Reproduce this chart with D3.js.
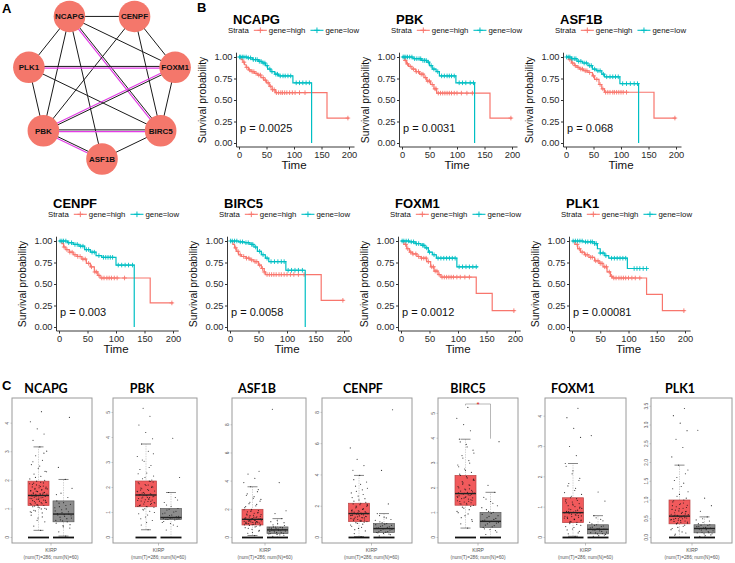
<!DOCTYPE html>
<html><head><meta charset="utf-8">
<script src="https://cdn.jsdelivr.net/npm/d3@7"></script>
<style>body{margin:0;background:#fff}svg{display:block}</style>
</head><body>
<script>
// ================= DATA =================
// Panel A network
const netNodes = ["ASF1B","PBK","PLK1","NCAPG","CENPF","FOXM1","BIRC5"]; // ring order
const netEdges = [
 ["NCAPG","CENPF",0],["NCAPG","PLK1",0],["NCAPG","FOXM1",0],["NCAPG","PBK",0],["NCAPG","ASF1B",0],["NCAPG","BIRC5",1],
 ["CENPF","FOXM1",0],["CENPF","BIRC5",0],["CENPF","PBK",0],
 ["PLK1","FOXM1",1],["PLK1","PBK",0],["PLK1","BIRC5",0],
 ["FOXM1","BIRC5",0],["FOXM1","PBK",1],
 ["PBK","BIRC5",1],["PBK","ASF1B",1],["ASF1B","BIRC5",0]
];
// Panel B survival
const kmGenes = ["NCAPG","PBK","ASF1B","CENPF","BIRC5","FOXM1","PLK1"];
const kmPvalues = ["0.0025","0.0031","0.068","0.003","0.0058","0.0012","0.00081"];
const kmTimeTicks = [0,50,100,150,200];
const kmSurvTicks = [0,0.25,0.5,0.75,1];
const kmStrata = ["gene=high","gene=low"];
const kmHighSteps = [
 [[0,1],[4,0.97],[7,0.94],[10,0.91],[13,0.88],[17,0.85],[22,0.83],[28,0.81],[34,0.79],[40,0.76],[45,0.73],[50,0.70],[55,0.66],[60,0.62],[66,0.585],[160,0.29]],
 [[0,1],[5,0.96],[8,0.92],[12,0.89],[18,0.86],[25,0.83],[32,0.80],[40,0.76],[45,0.72],[52,0.68],[58,0.63],[63,0.58],[160,0.29]],
 [[0,1],[5,0.97],[10,0.93],[15,0.90],[20,0.88],[25,0.86],[32,0.84],[40,0.82],[48,0.78],[52,0.74],[60,0.68],[65,0.63],[70,0.59],[160,0.29]],
 [[0,1],[5,0.97],[8,0.93],[12,0.90],[18,0.87],[25,0.84],[32,0.82],[40,0.79],[48,0.74],[55,0.70],[62,0.64],[68,0.60],[72,0.57],[160,0.28]],
 [[0,1],[5,0.96],[8,0.92],[11,0.88],[15,0.84],[20,0.82],[28,0.80],[35,0.78],[42,0.76],[50,0.72],[55,0.68],[60,0.64],[62,0.61],[160,0.31]],
 [[0,1],[5,0.96],[10,0.91],[15,0.87],[20,0.85],[28,0.82],[35,0.80],[45,0.76],[52,0.70],[58,0.65],[65,0.61],[70,0.58],[132,0.39],[160,0.19]],
 [[0,1],[5,0.96],[10,0.91],[15,0.87],[22,0.84],[30,0.81],[40,0.77],[48,0.74],[55,0.70],[62,0.64],[68,0.59],[72,0.57],[132,0.38],[160,0.19]]
];
const kmLowSteps = [
 [[0,1],[15,0.99],[25,0.97],[35,0.95],[42,0.93],[48,0.90],[52,0.86],[58,0.83],[65,0.80],[72,0.78],[98,0.70],[132,0]],
 [[0,1],[20,0.98],[35,0.96],[45,0.94],[50,0.90],[55,0.86],[62,0.83],[68,0.78],[98,0.70],[132,0]],
 [[0,1],[10,0.98],[20,0.95],[30,0.93],[40,0.90],[48,0.86],[55,0.84],[65,0.80],[70,0.77],[98,0.69],[132,0]],
 [[0,1],[15,0.98],[25,0.96],[35,0.94],[45,0.90],[55,0.87],[65,0.83],[75,0.81],[100,0.72],[132,0]],
 [[0,1],[15,0.99],[25,0.98],[35,0.96],[42,0.93],[48,0.88],[55,0.84],[62,0.80],[68,0.76],[98,0.66],[132,0]],
 [[0,1],[15,0.99],[25,0.97],[35,0.95],[42,0.92],[48,0.87],[55,0.84],[62,0.80],[98,0.70]],
 [[0,1],[20,0.99],[40,0.97],[45,0.91],[50,0.86],[58,0.83],[65,0.80],[98,0.68]]
];
const kmHighEnd = [200,200,200,200,200,200,200];
const kmLowEnd = [132,132,132,132,132,135,133];
const kmHighCensor = [
 [9,14,19,24,27,31,36,39,44,48,53,57,61,64,68,72,76,79,83,87,92,97,102,110,120,198],
 [6,10,15,21,26,30,35,38,43,47,50,55,60,62,66,70,74,78,82,86,90,95,100,108,118,128,198],
 [7,12,17,22,27,30,35,38,43,50,56,62,67,72,76,80,85,88,92,96,100,104,110,198],
 [9,14,19,23,28,33,37,42,46,52,57,63,66,70,75,79,84,88,92,97,102,115,198],
 [10,14,18,24,29,33,38,44,47,52,57,60,65,69,73,77,81,86,90,95,100,106,112,120,130,198],
 [8,12,17,21,26,31,36,40,44,48,54,57,60,63,67,72,76,80,84,88,92,98,104,112,120,198],
 [9,13,18,24,27,33,36,42,46,50,53,58,61,66,70,74,78,83,87,91,95,100,106,112,120,198]
];
const kmLowCensor = [
 [1,3,6,9,13,17,21,26,30,33,37,40,44,47,51,56,60,67,70,75,80,84,89,94,104,110,116,122,128],
 [2,4,7,10,14,18,23,27,31,34,38,41,44,48,53,58,65,72,77,82,86,90,95,104,110,116,124,130],
 [1,4,7,11,15,18,23,27,33,37,43,46,52,58,62,68,74,80,85,90,95,103,110,117,124,130],
 [2,5,8,12,17,22,28,32,38,42,48,52,58,62,70,78,82,86,90,94,104,110,116,122,129],
 [1,4,8,12,18,22,28,32,38,40,45,52,58,65,72,78,84,90,95,102,108,114,120,127],
 [2,5,9,13,18,22,27,31,38,40,45,50,58,65,70,75,80,85,90,95,102,108,114,120,126,132],
 [2,6,10,14,18,24,28,33,36,40,43,50,55,60,70,75,80,85,90,95,110,115,120,126,132]
];
// Panel C boxplots
const boxGenes = ["NCAPG","PBK","ASF1B","CENPF","BIRC5","FOXM1","PLK1"];
const boxCohort = "KIRP";
const boxCounts = "(num(T)=286; num(N)=60)";
const boxYTop = [4.88,5.58,9.9,8.92,5.62,4.6,3.72];
const boxYTicks = [[0,1,2,3,4],[0,1,2,3,4,5],[0,2,4,6,8],[0,2,4,6,8],[0,1,2,3,4,5],[0,1,2,3,4],[0,0.5,1,1.5,2,2.5,3,3.5]];
const boxSignificant = [false,false,false,false,true,false,false];
// [low whisker, Q1, median, Q3, high whisker]
const boxTumorStats = [[0.25,1.12,1.47,1.97,3.17],[0.31,1.23,1.70,2.26,3.74],[0.14,0.89,1.29,2.0,3.6],[0.06,1.02,1.53,2.19,3.97],[0.38,1.30,1.77,2.5,3.96],[0.04,0.49,0.82,1.31,2.44],[0.0,0.365,0.57,1.0,1.93]];
const boxNormalStats = [[0.05,0.55,0.82,1.28,2.03],[0.0,0.72,0.80,1.16,1.8],[0.0,0.28,0.54,0.75,1.34],[0.0,0.32,0.57,0.89,1.53],[0.0,0.41,0.65,1.01,1.82],[0.0,0.12,0.27,0.42,0.72],[0.0,0.125,0.24,0.34,0.55]];
const boxTumorPts = [
 [0.25,0.4,0.55,0.68,0.78,0.86,0.93,0.99,1.04,1.08,1.12,1.15,1.19,1.22,1.26,1.3,1.33,1.36,1.4,1.43,1.47,1.5,1.53,1.57,1.6,1.64,1.68,1.72,1.76,1.81,1.86,1.91,1.97,2.05,2.14,2.22,2.31,2.42,2.55,2.7,2.86,3.02,3.17,3.4,3.62,3.8,4.05,4.4,1.1,1.24,1.38,1.45,1.55,1.62,1.7,1.78,1.9,2.0,
  1.13,1.16,1.18,1.21,1.23,1.27,1.29,1.31,1.34,1.37,1.39,1.41,1.44,1.46,1.48,1.49,1.51,1.52,1.54,1.56,1.58,1.61,1.63,1.66,1.69,1.71,1.74,1.77,1.8,1.84,1.88,1.93,0.95,1.02,1.06,0.88,0.72,2.1,2.3,2.5,2.65,2.95,0.6,0.9,1.0],
 [0.31,0.5,0.68,0.82,0.95,1.05,1.13,1.2,1.23,1.3,1.36,1.42,1.48,1.53,1.58,1.63,1.68,1.7,1.75,1.8,1.86,1.92,1.98,2.05,2.12,2.19,2.26,2.35,2.46,2.58,2.72,2.88,3.05,3.24,3.45,3.74,3.95,4.2,4.5,4.85,5.17,1.4,1.6,1.9,2.0,1.15,1.25,1.55,1.78,2.22,
  1.24,1.27,1.32,1.34,1.38,1.44,1.46,1.5,1.51,1.56,1.6,1.62,1.65,1.67,1.72,1.73,1.77,1.83,1.88,1.95,2.02,2.08,2.15,2.24,1.1,1.0,0.9,0.75,2.3,2.4,2.55,2.8,3.1,3.35,0.6,1.28,1.45,1.69,1.85,2.1],
 [0.14,0.3,0.45,0.58,0.7,0.8,0.86,0.89,0.94,1.0,1.05,1.1,1.15,1.2,1.25,1.29,1.34,1.4,1.47,1.55,1.63,1.72,1.82,1.91,2.0,2.12,2.25,2.4,2.58,2.78,3.0,3.25,3.6,3.9,4.2,4.5,4.7,0.92,1.02,1.12,1.22,1.32,1.44,1.6,1.77,1.95,
  0.9,0.96,0.98,1.03,1.07,1.09,1.13,1.17,1.19,1.23,1.27,1.3,1.33,1.37,1.42,1.45,1.5,1.58,1.66,1.75,1.85,1.97,0.75,0.65,0.5,0.35,2.2,2.35,2.5,2.7,2.9,3.1,3.4,1.26,1.31,1.05,1.14,0.83],
 [0.06,0.25,0.42,0.58,0.72,0.85,0.95,1.02,1.1,1.18,1.25,1.32,1.4,1.47,1.53,1.6,1.68,1.76,1.85,1.95,2.06,2.19,2.32,2.48,2.65,2.85,3.05,3.28,3.55,3.97,4.3,4.6,5.0,5.73,1.06,1.2,1.36,1.5,1.64,1.8,2.0,2.12,
  1.04,1.08,1.12,1.15,1.22,1.28,1.3,1.34,1.38,1.43,1.45,1.49,1.52,1.56,1.62,1.66,1.71,1.74,1.8,1.9,2.0,2.1,2.15,0.98,0.9,0.8,0.65,0.5,2.25,2.4,2.55,2.75,2.95,3.15,3.4,3.7,1.55,1.58,1.42,1.26],
 [0.38,0.55,0.72,0.88,1.0,1.12,1.22,1.3,1.38,1.45,1.52,1.59,1.66,1.72,1.77,1.84,1.92,2.0,2.1,2.2,2.3,2.4,2.5,2.62,2.76,2.92,3.1,3.3,3.52,3.75,3.96,4.3,4.55,4.8,5.24,1.35,1.5,1.62,1.8,1.96,2.15,2.35,
  1.32,1.36,1.4,1.43,1.48,1.55,1.57,1.6,1.64,1.68,1.7,1.75,1.79,1.82,1.87,1.9,1.95,2.05,2.12,2.25,2.32,2.45,2.55,1.25,1.18,1.05,0.95,0.8,0.65,2.7,2.85,3.0,3.2,3.4,3.65,3.85,1.74,1.78,1.62,1.46],
 [0.04,0.12,0.2,0.28,0.36,0.43,0.49,0.55,0.61,0.67,0.72,0.77,0.82,0.88,0.94,1.0,1.07,1.14,1.22,1.31,1.42,1.55,1.7,1.88,2.1,2.44,2.7,3.0,3.3,3.6,3.95,4.26,0.52,0.64,0.75,0.85,0.97,1.1,1.25,
  0.5,0.53,0.57,0.59,0.63,0.66,0.69,0.7,0.74,0.79,0.81,0.84,0.86,0.9,0.92,0.96,1.02,1.05,1.12,1.17,1.2,1.28,0.46,0.4,0.33,0.25,0.15,1.36,1.48,1.62,1.78,1.95,2.2,2.35,0.8,0.83,0.71,0.6],
 [0.0,0.06,0.12,0.18,0.24,0.3,0.365,0.41,0.45,0.49,0.53,0.57,0.62,0.67,0.73,0.8,0.88,0.95,1.0,1.1,1.22,1.36,1.52,1.7,1.93,2.15,2.4,2.62,2.85,3.05,3.25,3.44,0.39,0.47,0.55,0.6,0.7,0.77,0.85,0.92,
  0.37,0.38,0.4,0.43,0.44,0.46,0.48,0.5,0.51,0.52,0.54,0.56,0.58,0.59,0.61,0.64,0.66,0.69,0.71,0.75,0.78,0.82,0.86,0.9,0.98,0.33,0.27,0.21,0.15,0.09,1.05,1.15,1.3,1.45,1.6,1.8,0.56,0.58,0.63,0.5]
];
const boxNormalPts = [
 [0.05,0.2,0.33,0.42,0.5,0.55,0.62,0.68,0.74,0.79,0.82,0.87,0.93,1.0,1.08,1.16,1.22,1.28,1.4,1.55,1.72,2.03,2.45,4.2,0.58,0.6,0.66,0.71,0.76,0.8,0.84,0.9,0.97,1.04,1.12,1.2,0.45,0.38,1.5],
 [0.0,0.3,0.45,0.56,0.64,0.7,0.72,0.75,0.78,0.8,0.83,0.88,0.95,1.02,1.1,1.16,1.25,1.4,1.6,1.8,2.4,3.97,0.73,0.74,0.76,0.77,0.79,0.81,0.85,0.9,0.98,1.05,1.13,0.6,0.5,1.3,1.5],
 [0.0,0.08,0.16,0.22,0.28,0.34,0.4,0.46,0.51,0.54,0.58,0.63,0.68,0.72,0.75,0.85,0.98,1.12,1.34,1.7,1.9,3.9,9.1,0.3,0.36,0.43,0.48,0.53,0.56,0.6,0.66,0.7,0.74,0.25,0.19,0.9,1.05,1.2],
 [0.0,0.1,0.18,0.26,0.32,0.38,0.45,0.52,0.57,0.62,0.68,0.75,0.82,0.89,1.0,1.15,1.3,1.53,2.15,4.29,8.17,0.34,0.4,0.48,0.55,0.6,0.65,0.72,0.78,0.85,0.3,0.22,0.95,1.1,1.25,1.4],
 [0.0,0.12,0.22,0.32,0.41,0.48,0.55,0.6,0.65,0.7,0.77,0.85,0.93,1.01,1.12,1.28,1.45,1.62,1.82,2.1,3.86,0.43,0.5,0.58,0.62,0.68,0.73,0.8,0.88,0.97,0.35,0.28,1.05,1.2,1.38,1.55],
 [0.0,0.04,0.08,0.12,0.16,0.2,0.24,0.27,0.3,0.34,0.38,0.42,0.5,0.6,0.72,1.2,1.5,3.36,0.13,0.15,0.18,0.22,0.25,0.28,0.29,0.32,0.36,0.4,0.1,0.06,0.45,0.55,0.65],
 [0.0,0.03,0.07,0.1,0.125,0.16,0.2,0.24,0.27,0.3,0.34,0.4,0.47,0.55,0.7,0.85,1.05,2.86,0.13,0.14,0.18,0.21,0.23,0.25,0.26,0.29,0.32,0.33,0.1,0.05,0.37,0.44,0.5]
];

// ================= LAYOUT =================
const SANS = '"Liberation Sans", Arial, sans-serif';
const RED = "#F8766D", TEAL = "#00BFC4";
const svg = d3.select("body").append("svg").attr("width",735).attr("height",563);

function label(t,x,y){ svg.append("text").attr("x",x).attr("y",y).text(t)
  .attr("font-family",SANS).attr("font-weight","bold").attr("font-size",13); }
label("A",2,13); label("B",197,12); label("C",2,390);

// ---------- Panel A ----------
(function(){
  const g = svg.append("g");
  const ang = d3.scaleLinear().domain([0,netNodes.length]).range([Math.PI/2, Math.PI/2+2*Math.PI]);
  const cx=102, cy=84, R=75;
  const pos = {};
  netNodes.forEach((n,i)=>{ pos[n]=[cx+R*Math.cos(ang(i)), cy+R*Math.sin(ang(i))]; });
  netEdges.forEach(([a,b,dbl])=>{
    const [x1,y1]=pos[a],[x2,y2]=pos[b];
    if(!dbl){
      g.append("line").attr("x1",x1).attr("y1",y1).attr("x2",x2).attr("y2",y2)
        .attr("stroke","#1a1a1a").attr("stroke-width",1);
    } else {
      const dx=x2-x1, dy=y2-y1, L=Math.hypot(dx,dy), nx=-dy/L, ny=dx/L;
      [[-0.9,"#1a1a1a",1],[0.9,"#e23ce6",1.2]].forEach(([o,c,w])=>{
        g.append("line").attr("x1",x1+nx*o).attr("y1",y1+ny*o).attr("x2",x2+nx*o).attr("y2",y2+ny*o)
          .attr("stroke",c).attr("stroke-width",w);
      });
    }
  });
  const nd = g.selectAll("g.nd").data(netNodes).enter().append("g")
    .attr("transform",d=>`translate(${pos[d][0]},${pos[d][1]})`);
  nd.append("circle").attr("r",15.8).attr("fill","#F4776B");
  nd.append("text").text(d=>d).attr("text-anchor","middle").attr("dy","0.35em")
    .attr("font-family",SANS).attr("font-weight","bold").attr("font-size",8).attr("fill","#111");
})();

// ---------- Panel B ----------
const kmX0 = [239,402,566,59,230,401,572];
const kmW  = [110,110,110,114,114,114,113];
const kmY1 = [57,57,57,241,241,241,241];
const kmH  = 86;
function stepVal(steps,t){ let s=steps[0][1]; for(const [tt,ss] of steps){ if(tt<=t) s=ss; } return s; }
kmGenes.forEach((gene,i)=>{
  const g = svg.append("g");
  const x = d3.scaleLinear().domain([0,200]).range([kmX0[i], kmX0[i]+kmW[i]]);
  const y = d3.scaleLinear().domain([0,1]).range([kmY1[i]+kmH, kmY1[i]]);
  const axX = x(0)-2.5, axY = y(0)+4;
  g.append("line").attr("x1",axX).attr("x2",axX).attr("y1",y(1.05)).attr("y2",axY).attr("stroke","#222").attr("stroke-width",0.9);
  g.append("line").attr("x1",axX).attr("x2",x(210)).attr("y1",axY).attr("y2",axY).attr("stroke","#222").attr("stroke-width",0.9);
  const ya = g.append("g").attr("transform",`translate(${axX},0)`)
    .call(d3.axisLeft(y).tickValues(kmSurvTicks).tickFormat(d3.format(".2f")).tickSize(2.5).tickPadding(1.5));
  const xa = g.append("g").attr("transform",`translate(0,${axY})`)
    .call(d3.axisBottom(x).tickValues(kmTimeTicks).tickSize(2.5).tickPadding(1.5));
  [ya,xa].forEach(a=>{ a.select(".domain").remove(); a.selectAll("line").attr("stroke","#333");
    a.selectAll("text").attr("font-family",SANS).attr("font-size",9.3).attr("fill","#2a2a2a"); });
  g.append("text").attr("x",x(200)/2+x(0)/2).attr("y",axY+22).attr("text-anchor","middle").text("Time")
    .attr("font-family",SANS).attr("font-size",11.5).attr("fill","#111");
  g.append("text").attr("transform",`translate(${x(0)-33},${y(0.5)}) rotate(-90)`).attr("text-anchor","middle")
    .text("Survival probability").attr("font-family",SANS).attr("font-size",10.3).attr("fill","#111");
  g.append("text").attr("x",x(0)-6).attr("y",kmY1[i]-33).text(gene)
    .attr("font-family",SANS).attr("font-weight","bold").attr("font-size",13).attr("fill","#000");
  const ly = kmY1[i]-24;
  const lg = g.append("g").attr("transform",`translate(${x(0)-11},${ly})`);
  const t0 = lg.append("text").text("Strata").attr("font-family",SANS).attr("font-size",7.8).attr("fill","#111");
  let cur = t0.node().getComputedTextLength()+5;
  [[RED,kmStrata[0]],[TEAL,kmStrata[1]]].forEach(([c,lab])=>{
    lg.append("line").attr("x1",cur).attr("x2",cur+13).attr("y1",-2.7).attr("y2",-2.7).attr("stroke",c).attr("stroke-width",1.1);
    lg.append("path").attr("d",`M${cur+6.5},${-5.5}V${0.1}M${cur+3.7},${-2.7}H${cur+9.3}`).attr("stroke",c).attr("stroke-width",1);
    cur += 15;
    const tt = lg.append("text").attr("x",cur).text(lab).attr("font-family",SANS).attr("font-size",7.8).attr("fill","#111");
    cur += tt.node().getComputedTextLength()+5;
  });
  const line = d3.line().x(d=>x(d[0])).y(d=>y(d[1])).curve(d3.curveStepAfter);
  [[kmHighSteps[i],kmHighEnd[i],kmHighCensor[i],RED],[kmLowSteps[i],kmLowEnd[i],kmLowCensor[i],TEAL]].forEach(([st,end,cen,c])=>{
    const pts = st.concat([[end, st[st.length-1][1]]]);
    g.append("path").attr("d",line(pts)).attr("fill","none").attr("stroke",c).attr("stroke-width",1.2);
    g.append("path").attr("d",cen.map(t=>{const px=x(t),py=y(stepVal(st,t));
        return `M${px-2.3},${py}H${px+2.3}M${px},${py-2.3}V${py+2.3}`;}).join(""))
      .attr("stroke",c).attr("stroke-width",0.9).attr("fill","none");
  });
  g.append("text").attr("x",x(0)+1).attr("y",y(0)-11).text("p = "+kmPvalues[i])
    .attr("font-family",SANS).attr("font-size",11).attr("fill","#111");
});

// ---------- Panel C ----------
const frX = [12,113,232,322,438,545,651];
const frW = [80,84,74,90,80,81,81];
const grpC = [51,158.5,265,371.5,478,585.5,692];
const ttlX = [46,142,257,363,468,573,680];
const frTop = 398, frBot = 543, zeroY = 537.5;
const jit = k => ((k*0.6180339887)%1) - 0.5;
boxGenes.forEach((gene,i)=>{
  const g = svg.append("g");
  const y = d3.scaleLinear().domain([0,boxYTop[i]]).range([zeroY, frTop]);
  g.append("rect").attr("x",frX[i]).attr("y",frTop).attr("width",frW[i]).attr("height",frBot-frTop)
    .attr("fill","none").attr("stroke","#9a9a9a").attr("stroke-width",1);
  g.append("text").attr("x",ttlX[i]).attr("y",393).attr("text-anchor","middle").text(gene)
    .attr("font-family","Lato, 'Open Sans', sans-serif").attr("font-weight","bold").attr("font-size",12.5).attr("fill","#000");
  const fmt = boxYTicks[i].some(v=>v%1) ? d3.format(".1f") : d3.format("d");
  boxYTicks[i].forEach(v=>{
    g.append("line").attr("x1",frX[i]-1.5).attr("x2",frX[i]).attr("y1",y(v)).attr("y2",y(v)).attr("stroke","#999").attr("stroke-width",0.5);
    g.append("text").attr("transform",`translate(${frX[i]-3},${y(v)}) rotate(-90)`).attr("text-anchor","middle")
      .text(fmt(v)).attr("font-family",SANS).attr("font-size",4.8).attr("fill","#555");
  });
  g.append("line").attr("x1",grpC[i]).attr("x2",grpC[i]).attr("y1",frBot).attr("y2",frBot+2.5).attr("stroke","#999").attr("stroke-width",0.6);
  g.append("text").attr("x",grpC[i]).attr("y",551.5).attr("text-anchor","middle").text(boxCohort)
    .attr("font-family",SANS).attr("font-size",5).attr("fill","#555");
  g.append("text").attr("x",grpC[i]).attr("y",558.5).attr("text-anchor","middle").text(boxCounts)
    .attr("font-family",SANS).attr("font-size",4.7).attr("fill","#555");
  const groups = [[grpC[i]-12.5, boxTumorStats[i], boxTumorPts[i], "#f15a5c","#b94444"],
                  [grpC[i]+12.5, boxNormalStats[i], boxNormalPts[i], "#8d8d8d","#5c5c5c"]];
  groups.forEach(([c,st,pts,fill,edge])=>{
    const hw = 10.5;
    g.append("line").attr("x1",c).attr("x2",c).attr("y1",y(st[0])).attr("y2",y(st[4])).attr("stroke","#aaa").attr("stroke-width",0.5).attr("stroke-dasharray","1.5,1");
    [st[0],st[4]].forEach(v=>g.append("line").attr("x1",c-5).attr("x2",c+5).attr("y1",y(v)).attr("y2",y(v)).attr("stroke","#555").attr("stroke-width",0.7));
    g.append("rect").attr("x",c-hw).attr("y",y(st[3])).attr("width",2*hw).attr("height",y(st[1])-y(st[3]))
      .attr("fill",fill).attr("stroke",edge).attr("stroke-width",0.7);
    g.selectAll(null).data(pts).enter().append("circle")
      .attr("cx",(d,k)=>c+jit(k+1)*hw*1.7).attr("cy",d=>y(d)).attr("r",0.6).attr("fill","#111").attr("opacity",0.8);
    g.append("line").attr("x1",c-hw).attr("x2",c+hw).attr("y1",y(st[2])).attr("y2",y(st[2])).attr("stroke","#222").attr("stroke-width",1.4);
    g.append("line").attr("x1",c-hw).attr("x2",c+hw).attr("y1",y(0)).attr("y2",y(0)).attr("stroke","#111").attr("stroke-width",1.8);
  });
  if(boxSignificant[i]){
    const topY = frTop+6;
    const lx = grpC[i]-12.5, rx = grpC[i]+12.5;
    const ly = y(d3.max(boxTumorPts[i]))-2, ry = y(d3.max(boxNormalPts[i]))-3;
    g.append("path").attr("d",`M${lx},${ly}V${topY}H${rx}V${ry}`).attr("fill","none").attr("stroke","#888").attr("stroke-width",0.6);
    g.append("text").attr("x",grpC[i]).attr("y",topY+3.2).attr("text-anchor","middle").text("*")
      .attr("font-family",SANS).attr("font-size",8).attr("fill","#e02020");
  }
});
</script>
</body></html>
